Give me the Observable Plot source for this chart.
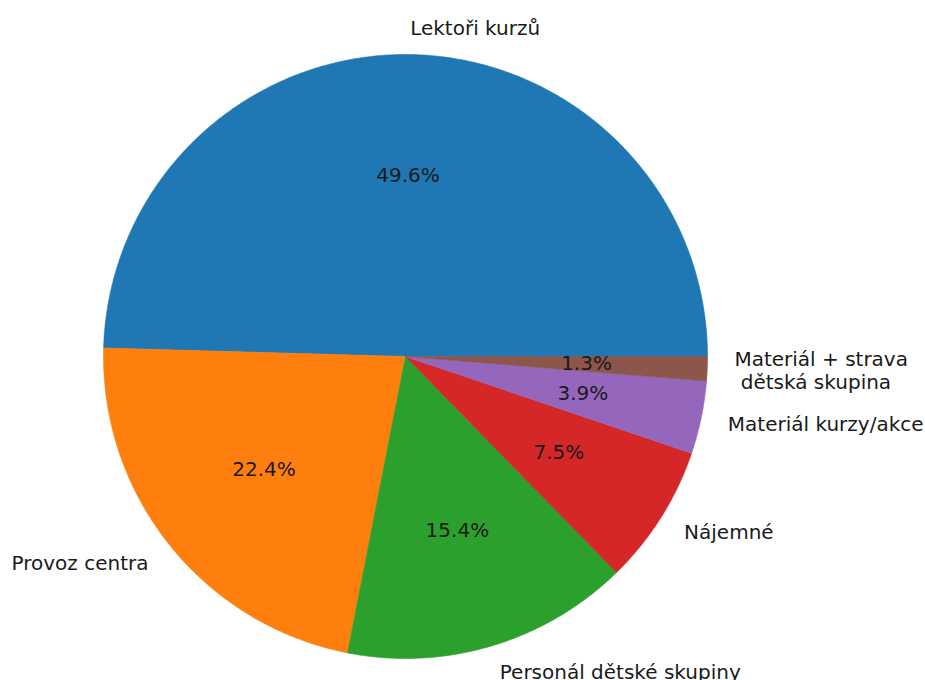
<!DOCTYPE html>
<html>
<head>
<meta charset="utf-8">
<script src="https://cdn.jsdelivr.net/npm/d3@7"></script>
<script src="https://cdn.jsdelivr.net/npm/@observablehq/plot@0.6"></script>
<style>
  html, body { margin: 0; padding: 0; background: #fff; }
  #chart { width: 925px; height: 680px; }
</style>
</head>
<body>
<div id="chart"></div>
<script>
// Data
const categories = ["Lektoři kurzů", "Provoz centra", "Personál dětské skupiny", "Nájemné", "Materiál kurzy/akce", "Materiál + strava\n\u00a0dětská skupina"];
const shares = [49.6, 22.4, 15.4, 7.5, 3.9, 1.3];
const colors = ["#1f77b4", "#ff7f0e", "#2ca02c", "#d62728", "#9467bd", "#8c564b"];

// Layout (matplotlib-style pie: start at 0°, counterclockwise)
const total = d3.sum(shares);
let acc = 0;
const slices = shares.map((v, i) => {
  const a0 = acc / total * 2 * Math.PI;
  acc += v;
  const a1 = acc / total * 2 * Math.PI;
  return {cat: categories[i], value: v, a0, a1, mid: (a0 + a1) / 2};
});

// polygon outline of each wedge in unit coordinates
const wedgePts = [];
for (const s of slices) {
  const n = Math.max(2, Math.ceil((s.a1 - s.a0) / (Math.PI / 360)));
  wedgePts.push({cat: s.cat, x: 0, y: 0});
  for (let k = 0; k <= n; k++) {
    const a = s.a0 + (s.a1 - s.a0) * k / n;
    wedgePts.push({cat: s.cat, x: Math.cos(a), y: Math.sin(a)});
  }
  wedgePts.push({cat: s.cat, x: 0, y: 0});
}

const labelR = 1.09;
const labels = slices.map(s => ({
  text: s.cat,
  x: labelR * Math.cos(s.mid),
  y: labelR * Math.sin(s.mid),
  anchor: Math.cos(s.mid) > 0 ? "start" : "end"
}));
const pcts = slices.map(s => ({
  text: s.value.toFixed(1) + "%",
  x: 0.6 * Math.cos(s.mid),
  y: 0.6 * Math.sin(s.mid)
}));

const cx = 405, cy = 356, R = 302;
const font = "DejaVu Sans, sans-serif";

const chart = Plot.plot({
  width: 925,
  height: 680,
  margin: 0,
  style: {fontFamily: font, background: "#fff"},
  x: {domain: [-1, 1], range: [cx - R, cx + R], axis: null},
  y: {domain: [-1, 1], range: [cy + R, cy - R], axis: null},
  color: {domain: categories, range: colors},
  marks: [
    Plot.line(wedgePts, {x: "x", y: "y", z: "cat", fill: "cat", stroke: "cat", strokeWidth: 0.6, curve: "linear-closed"}),
    Plot.text(labels.filter(d => d.anchor === "start"), {x: "x", y: "y", text: "text", textAnchor: "start", lineAnchor: "middle", lineHeight: 1.15, fontSize: 20, fill: "#1a1a1a"}),
    Plot.text(labels.filter(d => d.anchor === "end"), {x: "x", y: "y", text: "text", textAnchor: "end", lineAnchor: "middle", lineHeight: 1.15, fontSize: 20, fill: "#1a1a1a"}),
    Plot.text(pcts, {x: "x", y: "y", text: "text", textAnchor: "middle", lineAnchor: "middle", fontSize: 20, fill: "#1a1a1a"})
  ]
});
document.getElementById("chart").appendChild(chart);
</script>
</body>
</html>
